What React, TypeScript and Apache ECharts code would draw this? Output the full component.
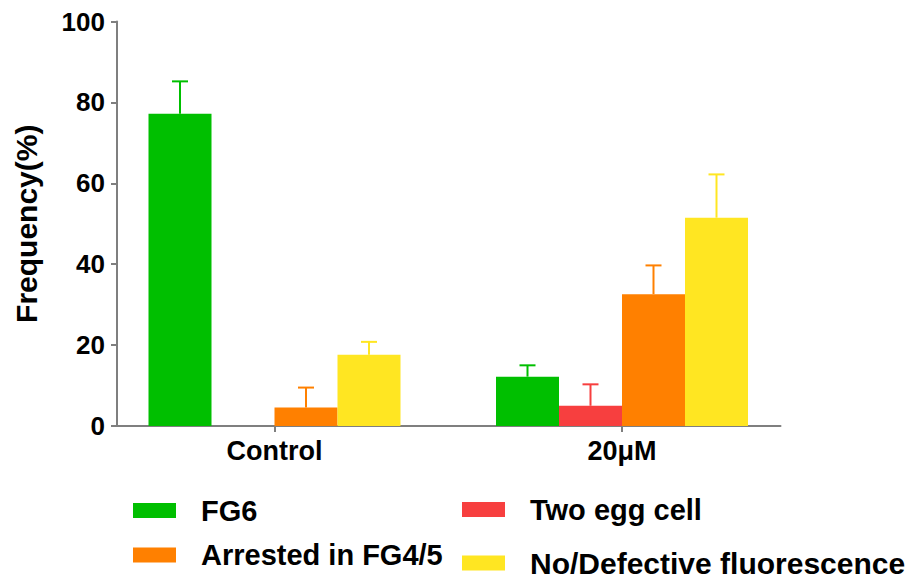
import React, { useEffect, useRef } from "react";
import * as echarts from "echarts";

const categories = ["Control", "20μM"];
const seriesNames = ["FG6", "Two egg cell", "Arrested in FG4/5", "No/Defective fluorescence"];
const fg6 = [77.2, 12.2];
const twoEgg = [0, 5.0];
const arrested = [4.6, 32.6];
const defective = [17.6, 51.5];
// upper end of each error bar (mean + error); null = no error bar
const fg6Err = [85.2, 15.0];
const twoEggErr = [null, 10.3];
const arrestedErr = [9.5, 39.7];
const defectiveErr = [20.8, 62.2];
const yTicks = [0, 20, 40, 60, 80, 100];

const colors = ["#00bf00", "#f73f3f", "#ff8000", "#ffe622"];
const FONT = "'Liberation Sans', Arial, sans-serif";
const BAR_W = 63;
const AXIS_COLOR = "#7f7f7f";

export default function App() {
  const ref = useRef<HTMLDivElement>(null);
  useEffect(() => {
    if (!ref.current) return;
    const chart = echarts.init(ref.current, null, { renderer: "svg" });
    const values = [fg6, twoEgg, arrested, defective];
    const errs = [fg6Err, twoEggErr, arrestedErr, defectiveErr];

    const barSeries = seriesNames.map((name, i) => ({
      name,
      type: "bar",
      xAxisIndex: 0,
      yAxisIndex: 0,
      barWidth: BAR_W,
      barGap: "0%",
      data: values[i],
      itemStyle: { color: colors[i] },
    }));

    const errSeries = seriesNames.map((name, i) => ({
      name: name + " error",
      type: "custom",
      xAxisIndex: 0,
      yAxisIndex: 0,
      z: 5,
      data: values[i]
        .map((v, c) => (errs[i][c] == null ? null : [c, v, errs[i][c]]))
        .filter((d) => d != null),
      renderItem: (params: any, api: any) => {
        const c = api.value(0);
        const base = api.coord([c, api.value(1)]);
        const top = api.coord([c, api.value(2)]);
        const x = base[0] + (i - 1.5) * BAR_W;
        const style = { stroke: colors[i], lineWidth: 2 };
        return {
          type: "group",
          children: [
            { type: "line", shape: { x1: x, y1: base[1], x2: x, y2: top[1] }, style },
            { type: "line", shape: { x1: x - 8, y1: top[1], x2: x + 8, y2: top[1] }, style },
          ],
        };
      },
    }));

    const legendPos = [
      { left: 133, top: 496, size: 29 },
      { left: 462, top: 495, size: 29 },
      { left: 133, top: 540.5, size: 29 },
      { left: 462, top: 548, size: 30 },
    ];
    const legends = seriesNames.map((name, i) => ({
      data: [{ name, icon: "rect" }],
      left: legendPos[i].left,
      top: legendPos[i].top,
      padding: 0,
      itemWidth: 43,
      itemHeight: 15,
      selectedMode: false,
      textStyle: {
        fontFamily: FONT,
        fontWeight: "bold",
        fontSize: legendPos[i].size,
        color: "#000",
        padding: [0, 0, 0, 20],
      },
    }));

    chart.setOption({
      animation: false,
      backgroundColor: "#fff",
      grid: [
        { left: 100.75, top: 21.5, width: 695, height: 404.5 },
        { left: 117, top: 21.5, width: 663.5, height: 404.5 },
      ],
      legend: legends,
      xAxis: [
        {
          type: "category",
          gridIndex: 0,
          data: categories,
          axisLine: { show: false },
          axisTick: { show: true, alignWithLabel: true, length: 6, lineStyle: { color: AXIS_COLOR, width: 2 } },
          axisLabel: { fontFamily: FONT, fontWeight: "bold", fontSize: 27, color: "#000", margin: 11 },
          splitLine: { show: false },
        },
        {
          type: "value",
          gridIndex: 1,
          min: 0,
          max: 1,
          axisLine: { show: true, lineStyle: { color: AXIS_COLOR, width: 2 } },
          axisTick: { show: false },
          axisLabel: { show: false },
          splitLine: { show: false },
        },
      ],
      yAxis: [
        {
          type: "value",
          gridIndex: 0,
          min: yTicks[0],
          max: yTicks[yTicks.length - 1],
          show: false,
        },
        {
          type: "value",
          gridIndex: 1,
          min: yTicks[0],
          max: yTicks[yTicks.length - 1],
          interval: yTicks[1] - yTicks[0],
          name: "Frequency(%)",
          nameLocation: "middle",
          nameRotate: 90,
          nameGap: 76,
          nameTextStyle: { fontFamily: FONT, fontWeight: "bold", fontSize: 30, color: "#000" },
          axisLine: { show: true, lineStyle: { color: AXIS_COLOR, width: 2 } },
          axisTick: { show: true, length: 6, lineStyle: { color: AXIS_COLOR, width: 2 } },
          axisLabel: { fontFamily: FONT, fontWeight: "bold", fontSize: 26, color: "#000", margin: 12 },
          splitLine: { show: false },
        },
      ],
      series: [...barSeries, ...errSeries],
    });
    return () => chart.dispose();
  }, []);
  return (
    <div
      ref={ref}
      style={{ position: "fixed", left: 0, top: 0, width: 911, height: 580, background: "#fff" }}
    />
  );
}
